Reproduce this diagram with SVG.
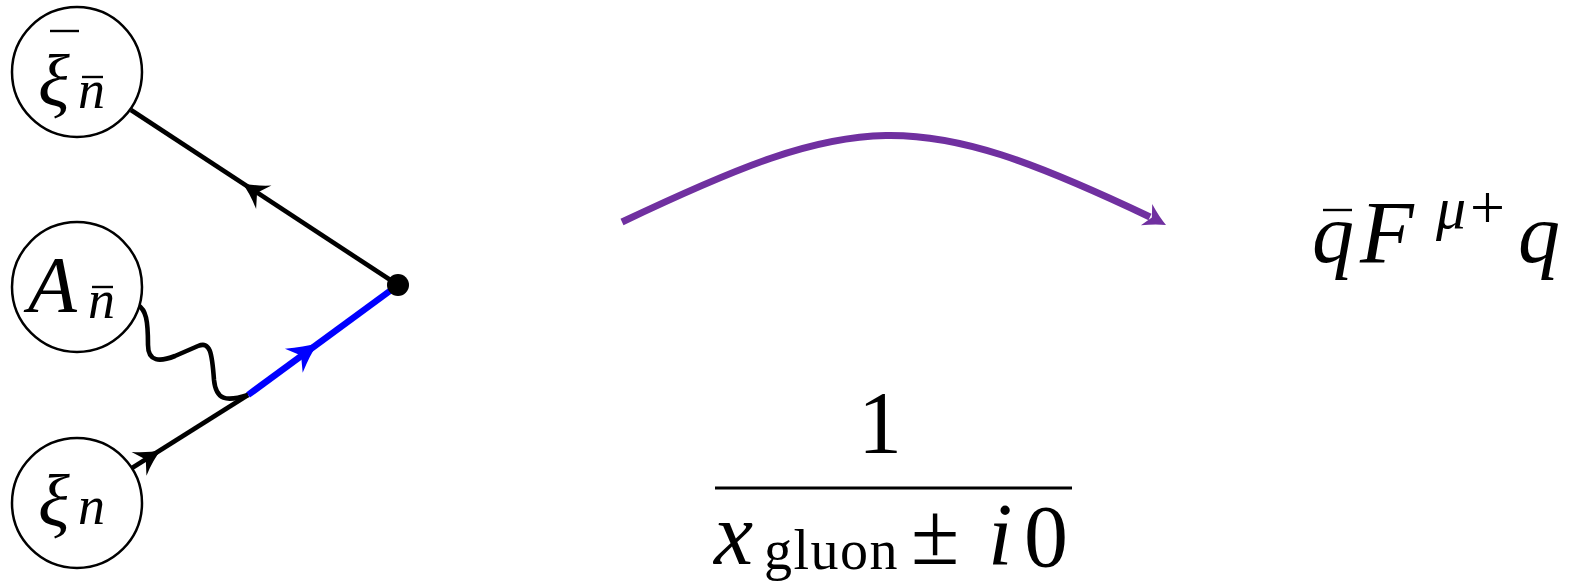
<svg xmlns="http://www.w3.org/2000/svg" width="1578" height="585" viewBox="0 0 1578 585">
<style>
.node{fill:#fff;stroke:#000;stroke-width:2.5}
.m{font-family:"Liberation Serif","DejaVu Serif",serif;font-style:italic;fill:#000}
.r{font-family:"Liberation Serif","DejaVu Serif",serif;fill:#000}
.bar{stroke:#000;stroke-width:2.4}
.ln{stroke:#000;stroke-width:4.6;fill:none}
</style>
<defs>
<path id="stealth" d="M0,0 Q-12,-4 -26,-14 L-18,0 L-26,14 Q-12,4 0,0 Z"/>
<path id="stealthB" d="M0,0 Q-14,-5 -30,-15 L-21,0 L-30,15 Q-14,5 0,0 Z"/>
<path id="stealthP" d="M0,0 Q-10,-4 -22,-12 L-16,0 L-22,12 Q-10,4 0,0 Z"/>
</defs>
<g id="connectors">
<path class="ln" d="M131,110 L398,285"/>
<use href="#stealth" fill="#000" transform="translate(242,183) rotate(213.2)"/>
<path class="ln" d="M132,468 L248,395"/>
<use href="#stealth" fill="#000" transform="translate(161,450) rotate(-32.2)"/>
<path d="M248,395 L398,285" stroke="#0000ff" stroke-width="6.5" fill="none"/>
<use href="#stealthB" fill="#0000ff" transform="translate(318,343) rotate(-36.25)"/>
<path class="ln" d="M138,305 C146,310 148,320 148,345 C148,362 160,362 175,356 L198,346 C210,341 212,352 214,380 C216,400 226,402 248,395"/>
<circle cx="398" cy="285" r="11" fill="#000"/>
<path d="M622,222 C858,110 914,105 1150,217" stroke="#7030a0" stroke-width="7" fill="none"/>
<use href="#stealthP" fill="#7030a0" transform="translate(1166,225) rotate(28)"/>
</g>
<g id="node-xibar">
<circle class="node" cx="77" cy="72" r="65"/>
<text class="m" x="38" y="106" font-size="74">ξ</text>
<line class="bar" x1="50" y1="31" x2="79" y2="31"/>
<text class="m" x="78" y="108" font-size="54">n</text>
<line class="bar" x1="82" y1="77" x2="103" y2="77"/>
</g>
<g id="node-A">
<circle class="node" cx="77" cy="287" r="65"/>
<text class="m" x="28" y="312" font-size="80">A</text>
<text class="m" x="88" y="318" font-size="54">n</text>
<line class="bar" x1="92" y1="287" x2="113" y2="287"/>
</g>
<g id="node-xi">
<circle class="node" cx="77" cy="503" r="65"/>
<text class="m" x="38" y="526" font-size="74">ξ</text>
<text class="m" x="78" y="524" font-size="54">n</text>
</g>
<g id="label-operator">
<text class="m" x="1312" y="262" font-size="84">q</text>
<line class="bar" x1="1323" y1="210" x2="1352" y2="210" stroke-width="3"/>
<text class="m" x="1360" y="262" font-size="88">F</text>
<text class="m" x="1436" y="228" font-size="60">μ</text>
<text class="r" x="1470" y="228" font-size="62">+</text>
<text class="m" x="1518" y="262" font-size="84">q</text>
</g>
<g id="label-fraction">
<text class="r" x="880" y="452" font-size="88" text-anchor="middle">1</text>
<line x1="715" y1="488" x2="1072" y2="488" stroke="#000" stroke-width="3"/>
<text class="m" x="714" y="564" font-size="88">x</text>
<text class="r" x="764" y="569" font-size="56" letter-spacing="1.5">gluon</text>
<text class="r" x="911" y="564" font-size="88">±</text>
<text class="m" x="988" y="564" font-size="88">i</text>
<text class="r" x="1024" y="566" font-size="88">0</text>
</g>
</svg>
